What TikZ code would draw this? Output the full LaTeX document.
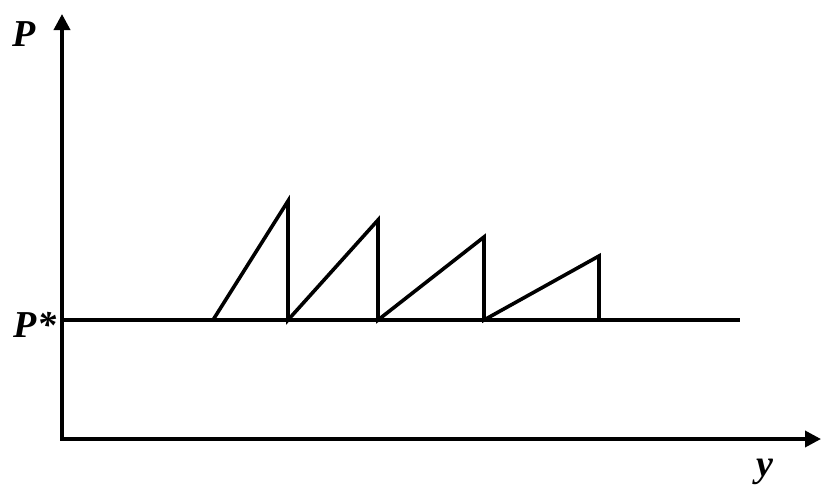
\documentclass[tikz,border=0pt]{standalone}
\usepackage{fontspec}
\setmainfont{Liberation Serif}
\usetikzlibrary{arrows.meta}
\begin{document}
\begin{tikzpicture}[x=1pt,y=-1pt,
  axis/.style={line width=3.6pt,-{Triangle[width=16pt,length=16pt]}},
  curve/.style={line width=3.6pt,line join=miter,line cap=butt},
  lbl/.style={font=\fontsize{38}{42}\selectfont\bfseries\itshape,inner sep=0pt}]
\useasboundingbox (0,0) rectangle (821,490);
\coordinate (O) at (62,439);
\coordinate (ytop) at (62,14);
\coordinate (xend) at (821,439);
\coordinate (hs) at (62,320);
\coordinate (he) at (740,320);
\draw[axis] ([yshift=1.8pt]O) -- (ytop);
\draw[axis] ([xshift=-1.8pt]O) -- (xend);
\draw[curve] (hs) -- (he);
\coordinate (a0) at (213,320);
\coordinate (a1) at (288,201);
\coordinate (a2) at (288,320);
\coordinate (b1) at (378,220);
\coordinate (b2) at (378,320);
\coordinate (c1) at (484,237);
\coordinate (c2) at (484,320);
\coordinate (d1) at (599,256);
\coordinate (d2) at (599,320);
\draw[curve] (a0) -- (a1) -- (a2) -- (b1) -- (b2) -- (c1) -- (c2) -- (d1) -- (d2);
\node[lbl] (P) at (24,34) {P};
\node[lbl] (Ps) at (35,325) {P*};
\node[lbl] (y) at (765,472) {y};
\end{tikzpicture}
\end{document}
